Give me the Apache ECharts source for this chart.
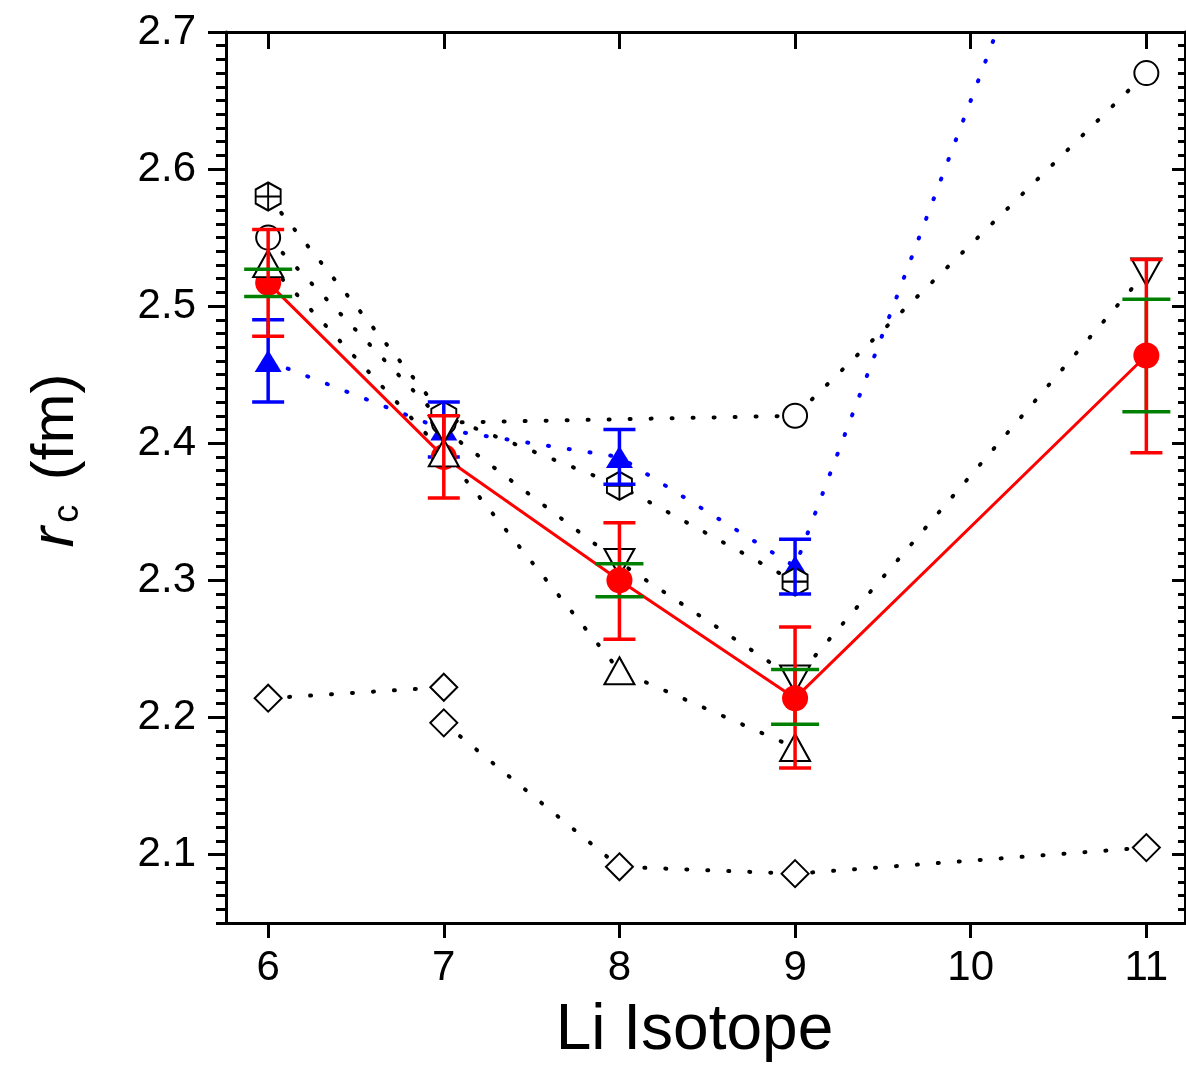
<!DOCTYPE html>
<html>
<head>
<meta charset="utf-8">
<script src="https://cdn.jsdelivr.net/npm/echarts@6/dist/echarts.min.js"></script>
<style>
  html, body { margin: 0; padding: 0; background: #fff; }
  #chart { width: 1186px; height: 1068px; }
</style>
</head>
<body>
<div id="chart"></div>
<script>
var font = '"Liberation Sans", Arial, sans-serif';

// axis ticks
var xTicks = [6, 7, 8, 9, 10, 11];
var yTicks = [2.1, 2.2, 2.3, 2.4, 2.5, 2.6, 2.7];

// open hexagon with cross
var hexIso = [6, 7, 8, 9];
var hexR = [2.58, 2.42, 2.369, 2.299];
// open circle
var circIso = [6, 7, 9, 11];
var circR = [2.55, 2.415, 2.42, 2.67];
// open up triangle
var upIso = [6, 7, 8, 9];
var upR = [2.531, 2.393, 2.234, 2.178];
// open down triangle
var downIso = [7, 8, 9, 11];
var downR = [2.41, 2.313, 2.228, 2.525];
// open diamonds (two chains)
var diaAIso = [6, 7];
var diaAR = [2.214, 2.222];
var diaBIso = [7, 8, 9, 11];
var diaBR = [2.196, 2.091, 2.086, 2.105];
// blue filled triangles
var blueIso = [6, 7, 8, 9, 11];
var blueR = [2.46, 2.41, 2.39, 2.31, 2.99];
var blueLo = [2.43, 2.39, 2.37, 2.29, 2.97];
var blueHi = [2.49, 2.43, 2.41, 2.33, 3.01];
// red filled circles
var redIso = [6, 7, 8, 9, 11];
var redR = [2.517, 2.39, 2.30, 2.214, 2.464];
var redLo = [2.478, 2.36, 2.257, 2.163, 2.393];
var redHi = [2.556, 2.42, 2.342, 2.266, 2.534];
// green (inner) error bars
var greenIso = [6, 8, 9, 11];
var greenLo = [2.507, 2.288, 2.195, 2.423];
var greenHi = [2.527, 2.312, 2.235, 2.505];

var hexPath = 'path://M0,-1L0.866,-0.5L0.866,0.5L0,1L-0.866,0.5L-0.866,-0.5ZM0,-1L0,1M-0.866,0L0.866,0';

function pairs(xs, ys) {
  return xs.map(function (x, i) { return [x, ys[i]]; });
}

function dottedLine(xs, ys, color) {
  return {
    type: 'line',
    data: pairs(xs, ys),
    showSymbol: false,
    lineStyle: { color: color, width: 4, type: [1, 20], cap: 'round' },
    silent: true,
    z: 2
  };
}

function openMarks(xs, ys, symbol, size, rotate, z) {
  return {
    type: 'scatter',
    data: pairs(xs, ys),
    symbol: symbol,
    symbolSize: size,
    symbolRotate: rotate || 0,
    itemStyle: { color: '#fff', borderColor: '#000', borderWidth: 2, opacity: 1 },
    silent: true,
    z: z || 3
  };
}

// parts: 'all', 'stem' or 'caps'
function errSeries(xs, lo, hi, color, capW, z, parts) {
  return {
    type: 'custom',
    clip: true,
    silent: true,
    z: z,
    data: xs.map(function (x, i) { return [x, lo[i], hi[i]]; }),
    encode: { x: 0, y: [1, 2] },
    renderItem: function (params, api) {
      var a = api.coord([api.value(0), api.value(1)]);
      var b = api.coord([api.value(0), api.value(2)]);
      var h = capW / 2;
      var st = { stroke: color, lineWidth: 3.5 };
      var kids = [];
      if (parts !== 'caps') {
        kids.push({ type: 'line', shape: { x1: a[0], y1: a[1], x2: b[0], y2: b[1] }, style: st });
      }
      if (parts !== 'stem') {
        kids.push({ type: 'line', shape: { x1: a[0] - h, y1: a[1], x2: a[0] + h, y2: a[1] }, style: st });
        kids.push({ type: 'line', shape: { x1: b[0] - h, y1: b[1], x2: b[0] + h, y2: b[1] }, style: st });
      }
      return { type: 'group', children: kids };
    }
  };
}

var axisLine = { show: true, onZero: false, lineStyle: { color: '#000', width: 3 } };
var xMin = 5.76, xMax = 11.22, yMin = 2.05, yMax = 2.7;

var option = {
  animation: false,
  backgroundColor: '#fff',
  grid: { left: 226, right: 1, top: 32, bottom: 145, containLabel: false, outerBoundsMode: 'none' },
  xAxis: [
    {
      type: 'value', position: 'bottom', min: xMin, max: xMax,
      axisLine: axisLine,
      axisTick: { show: true, inside: false, length: 15, customValues: xTicks, lineStyle: { color: '#000', width: 3 } },
      axisLabel: { show: true, customValues: xTicks, margin: 24, fontSize: 42, fontFamily: font, color: '#000' },
      splitLine: { show: false },
      name: 'Li Isotope', nameLocation: 'middle', nameGap: 76,
      nameTextStyle: { fontSize: 64, fontFamily: font, color: '#000', padding: [0, 22, 0, 0] }
    },
    {
      type: 'value', position: 'top', min: xMin, max: xMax,
      axisLine: axisLine,
      axisTick: { show: true, inside: true, length: 17, customValues: xTicks, lineStyle: { color: '#000', width: 3 } },
      axisLabel: { show: false },
      splitLine: { show: false }
    }
  ],
  yAxis: [
    {
      type: 'value', position: 'left', min: yMin, max: yMax,
      axisLine: axisLine,
      axisTick: { show: true, inside: false, length: 18, customValues: yTicks, lineStyle: { color: '#000', width: 3 } },
      axisLabel: {
        show: true, customValues: yTicks, margin: 30, fontSize: 42, fontFamily: font, color: '#000',
        formatter: function (v) { return v.toFixed(1); }
      },
      splitLine: { show: false },
      name: '{r|r}{c|c} (fm)', nameLocation: 'middle', nameRotate: 90, nameGap: 140,
      nameTextStyle: {
        fontSize: 60, fontFamily: font, color: '#000', lineHeight: 60, padding: [0, 0, 0, 34],
        rich: {
          r: { fontSize: 62, fontStyle: 'italic', fontFamily: font, color: '#000', lineHeight: 60 },
          c: { fontSize: 36, fontFamily: font, color: '#000', lineHeight: 18, verticalAlign: 'bottom', padding: [0, 8, 0, 4] }
        }
      }
    },
    {
      type: 'value', position: 'left', min: yMin, max: yMax, interval: 0.01,
      axisLine: { show: false },
      axisTick: { show: true, inside: false, length: 10, lineStyle: { color: '#000', width: 3 } },
      axisLabel: { show: false },
      splitLine: { show: false }
    },
    {
      type: 'value', position: 'right', min: yMin, max: yMax,
      axisLine: axisLine,
      axisTick: { show: true, inside: true, length: 13, customValues: yTicks, lineStyle: { color: '#000', width: 3 } },
      axisLabel: { show: false },
      splitLine: { show: false }
    },
    {
      type: 'value', position: 'right', min: yMin, max: yMax, interval: 0.01,
      axisLine: { show: false },
      axisTick: { show: true, inside: true, length: 7, lineStyle: { color: '#000', width: 3 } },
      axisLabel: { show: false },
      splitLine: { show: false }
    }
  ],
  series: [
    dottedLine(diaAIso, diaAR, '#000'),
    dottedLine(diaBIso, diaBR, '#000'),
    dottedLine(circIso, circR, '#000'),
    dottedLine(hexIso, hexR, '#000'),
    dottedLine(downIso, downR, '#000'),
    dottedLine(upIso, upR, '#000'),
    dottedLine(blueIso, blueR, '#0000ff'),
    {
      type: 'scatter',
      data: pairs(blueIso, blueR),
      symbol: 'triangle', symbolSize: [27, 22],
      itemStyle: { color: '#0000ff', opacity: 1 },
      silent: true, z: 3
    },
    openMarks(diaAIso, diaAR, 'diamond', 27),
    openMarks(diaBIso, diaBR, 'diamond', 27),
    openMarks(circIso, circR, 'circle', 24),
    openMarks(hexIso, hexR, hexPath, [25, 28]),
    openMarks(downIso, downR, 'triangle', [30, 27], 180),
    {
      type: 'line',
      data: pairs(redIso, redR),
      showSymbol: false,
      lineStyle: { color: '#ff0000', width: 3 },
      silent: true, z: 4
    },
    errSeries(blueIso, blueLo, blueHi, '#0000ff', 32, 4, 'all'),
    errSeries(greenIso, greenLo, greenHi, '#008000', 48, 5, 'stem'),
    {
      type: 'scatter',
      data: pairs(redIso, redR),
      symbol: 'circle', symbolSize: 26,
      itemStyle: { color: '#ff0000', opacity: 1 },
      silent: true, z: 6
    },
    openMarks(upIso, upR, 'triangle', [30, 27], 0, 7),
    errSeries(redIso, redLo, redHi, '#ff0000', 32, 8, 'all'),
    errSeries(greenIso, greenLo, greenHi, '#008000', 48, 9, 'caps')
  ]
};

var myChart = echarts.init(document.getElementById('chart'), null, { renderer: 'canvas' });
myChart.setOption(option);
</script>
</body>
</html>
